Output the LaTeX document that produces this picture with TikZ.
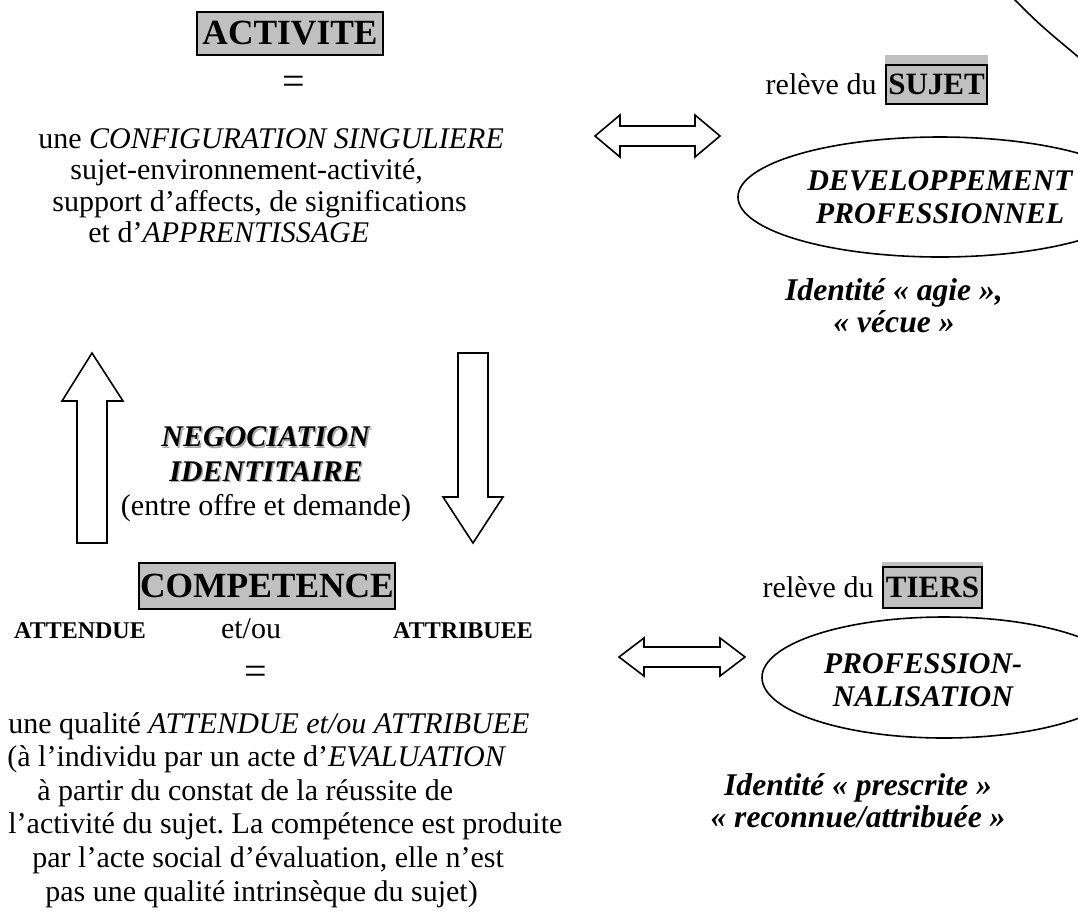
\documentclass[tikz,border=0pt]{standalone}
\usepackage{fontspec}
\setmainfont{Liberation Serif}
\frenchspacing
\usetikzlibrary{shapes.geometric,backgrounds,positioning}
\definecolor{boxgrey}{RGB}{192,192,192}
\tikzset{
  headbox/.style={draw, fill=boxgrey, line width=1.2pt, inner sep=0.5pt,
    font=\fontsize{17.7}{20}\selectfont\bfseries},
  tagbox/.style={draw, fill=boxgrey, line width=1.1pt, inner sep=0.5pt,
    font=\fontsize{15.5}{18}\selectfont\bfseries},
  body/.style={inner sep=0pt, font=\fontsize{15}{15.75}\selectfont},
  longbody/.style={inner sep=0pt, font=\fontsize{15}{16.8}\selectfont},
  smallbold/.style={inner sep=0pt, font=\fontsize{12}{13}\selectfont\bfseries},
  equal/.style={inner sep=0pt, font=\fontsize{20}{20}\selectfont},
  nego/.style={inner sep=0pt, align=center, font=\fontsize{15}{17.25}\selectfont},
  ident/.style={inner sep=0pt, align=center, font=\fontsize{15.8}{16}\selectfont\bfseries\itshape},
  oval/.style={ellipse, draw, line width=0.8pt, inner sep=0pt},
  ovaltext/.style={inner sep=0pt, align=center, font=\fontsize{15}{16.75}\selectfont\bfseries\itshape},
  blockarrow/.style={draw, line width=0.8pt, line join=miter}
}
\begin{document}
\begin{tikzpicture}[x=0.5pt, y=-0.5pt]
\useasboundingbox (0,0) rectangle (1078,912);
\clip (0,0) rectangle (1078,912);

% left column: activity
% (multi-line nodes are placed by the baseline of their last line)
\node[headbox, minimum width=93pt, minimum height=21.5pt] (activite) at (290,33.5) {ACTIVITE};
\node[equal] (eqtop) at (294,85) {=};
\node[body, align=left, anchor=base west] (actdef) at (38,242.5) {une \textit{CONFIGURATION SINGULIERE}\\
  \hspace*{16pt}sujet-environnement-activité,\\
  \hspace*{7pt}support d’affects, de significations\\
  \hspace*{25pt}et d’\textit{APPRENTISSAGE}};

% negotiation between the two
\node[nego, anchor=base, text=black!35] (negoshadow) at (267.5,482.5) {\textbf{\textit{NEGOCIATION}}\\ \textbf{\textit{IDENTITAIRE}}};
\node[nego, anchor=base] (nego) at (266,515.5) {\textbf{\textit{NEGOCIATION}}\\ \textbf{\textit{IDENTITAIRE}}\\ (entre offre et demande)};
\draw[blockarrow] (92,353) -- (123,401) -- (107,401) -- (107,543) -- (77,543) -- (77,401) -- (62,401) -- cycle;
\draw[blockarrow] (473,543) -- (503,497) -- (488,497) -- (488,353) -- (458,353) -- (458,497) -- (443,497) -- cycle;

% left column: competence
\node[headbox, minimum width=126pt, minimum height=23pt] (competence) at (267,586) {COMPETENCE};
\node[smallbold, anchor=base] (attendue) at (80,638) {ATTENDUE};
\node[body, anchor=base] (etou) at (251,638) {et/ou};
\node[smallbold, anchor=base] (attribuee) at (463,638) {ATTRIBUEE};
\node[equal] (eqbot) at (256,675) {=};
\node[longbody, align=left, anchor=base west] (compdef) at (7,901) {\hspace*{0.5pt}une qualité \textit{ATTENDUE et/ou ATTRIBUEE}\\
  (à l’individu par un acte d’\textit{EVALUATION}\\
  \hspace*{15pt}à partir du constat de la réussite de\\
  \hspace*{0.5pt}l’activité du sujet. La compétence est produite\\
  \hspace*{12.5pt}par l’acte social d’évaluation, elle n’est\\
  \hspace*{19pt}pas une qualité intrinsèque du sujet)};

% right column: subject side
\draw[blockarrow] (595,136) -- (620,115) -- (620,126) -- (695,126) -- (695,115) -- (720,136)
  -- (695,157) -- (695,146) -- (620,146) -- (620,157) -- cycle;
\node[tagbox, minimum width=50.5pt, minimum height=19.5pt] (sujet) at (936.5,84.5) {SUJET};
\node[body, anchor=base east] (relsujet) at ([xshift=-4pt]sujet.base west) {relève du};
\node[oval, minimum width=202pt, minimum height=60pt, font=\fontsize{15}{16.5}\selectfont\bfseries\itshape, align=center] (devpro) at (940,197) {DEVELOPPEMENT\\ PROFESSIONNEL};
\node[ident, anchor=base] (idsujet) at (894,332) {Identité « agie »,\\ « vécue »};
\draw[line width=0.8pt] (1012,-3) .. controls (1040,25) .. (1082,60);

% right column: third party side
\draw[blockarrow] (619,657) -- (644,638) -- (644,647) -- (720,647) -- (720,638) -- (745,657)
  -- (720,676) -- (720,667) -- (644,667) -- (644,676) -- cycle;
\node[tagbox, minimum width=49.5pt, minimum height=20.5pt] (tiers) at (932.5,587.5) {TIERS};
\node[body, anchor=base east] (reltiers) at ([xshift=-4pt]tiers.base west) {relève du};
\node[oval, minimum width=182pt, minimum height=60.5pt] (profell) at (944,677.5) {};
\node[ovaltext] (profnal) at (923,680) {PROFESSION-\\ NALISATION};
\node[ident, anchor=base] (idtiers) at (858,827) {Identité « prescrite »\\ « reconnue/attribuée »};

% grey highlight sticking out above the tag boxes
\begin{scope}[on background layer]
\fill[boxgrey] (sujet.south west) rectangle ([yshift=4.5pt]sujet.north east);
\fill[boxgrey] (tiers.south west) rectangle ([yshift=2pt]tiers.north east);
\end{scope}
\end{tikzpicture}
\end{document}
